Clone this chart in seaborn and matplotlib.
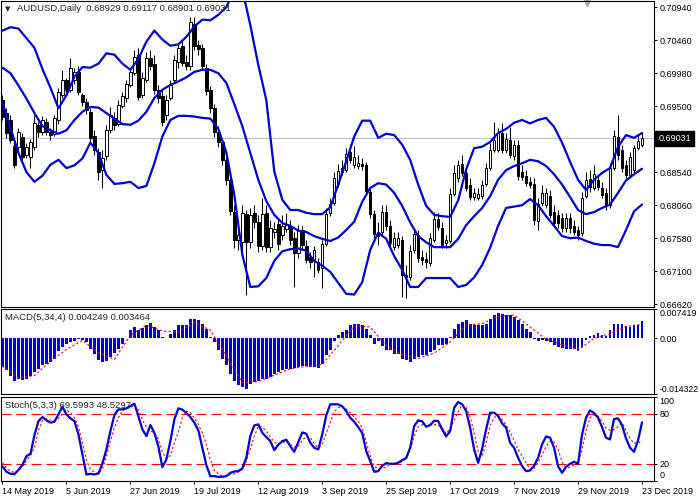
import numpy as np
import pandas as pd
import seaborn as sns
import matplotlib.pyplot as plt

sns.set_style('white')
plt.rcParams['font.family'] = ['Liberation Sans', 'DejaVu Sans']
plt.rcParams['font.size'] = 6.5

# ---- values (AUDUSD daily, 14 May - 23 Dec 2019) ----
tick_labels = ['14 May 2019', '5 Jun 2019', '27 Jun 2019', '19 Jul 2019', '12 Aug 2019', '3 Sep 2019',
               '25 Sep 2019', '17 Oct 2019', '7 Nov 2019', '29 Nov 2019', '23 Dec 2019']

open_ = [.6959, .6940, .6930, .6892, .6891, .6905, .6879, .6876, .6891, .6923,
         .6913, .6927, .6913, .6910, .6930, .6966, .6988, .6974, .6988, .7000,
         .6966, .6956, .6942, .6907, .6883, .6857, .6878, .6915, .6933, .6924,
         .6950, .6962, .6981, .6998, .7025, .6966, .6988, .7020, .7012, .6974,
         .6965, .6937, .6962, .6988, .7014, .7038, .7014, .7009, .7070, .7039,
         .7035, .7006, .6974, .6948, .6913, .6898, .6872, .6843, .6796, .6755,
         .6753, .6793, .6753, .6795, .6782, .6747, .6795, .6745, .6767, .6779,
         .6763, .6771, .6776, .6758, .6737, .6770, .6747, .6731, .6726, .6723,
         .6715, .6750, .6795, .6809, .6837, .6854, .6857, .6883, .6865, .6863,
         .6866, .6865, .6825, .6793, .6767, .6767, .6796, .6776, .6745, .6748,
         .6755, .6705, .6702, .6741, .6763, .6731, .6728, .6722, .6755, .6786,
         .6773, .6751, .6754, .6822, .6846, .6866, .6853, .6835, .6818, .6817,
         .6819, .6837, .6860, .6886, .6886, .6911, .6886, .6901, .6878, .6894,
         .6854, .6849, .6840, .6837, .6783, .6809, .6806, .6819, .6796, .6792,
         .6787, .6773, .6787, .6776, .6770, .6766, .6819, .6844, .6831, .6843,
         .6831, .6824, .6806, .6860, .6905, .6886, .6865, .6850, .6857, .6889,
         .68929]
high = [.6966, .6948, .6937, .6901, .6918, .6911, .6897, .6902, .6937, .6927,
        .6936, .6933, .6918, .6937, .6977, .7003, .6991, .7020, .7006, .7009,
        .6969, .6962, .6948, .6915, .6889, .6886, .6923, .6949, .6942, .6959,
        .6971, .6988, .7006, .7032, .7035, .7000, .7029, .7032, .7025, .6981,
        .6974, .6966, .6988, .7025, .7042, .7046, .7025, .7080, .7080, .7046,
        .7041, .7012, .6980, .6953, .6921, .6901, .6879, .6850, .6806, .6777,
        .6806, .6799, .6802, .6806, .6792, .6817, .6806, .6785, .6782, .6787,
        .6792, .6795, .6785, .6767, .6777, .6776, .6755, .6738, .6747, .6729,
        .6755, .6802, .6817, .6854, .6866, .6872, .6889, .6895, .6892, .6879,
        .6875, .6869, .6831, .6799, .6782, .6806, .6806, .6785, .6767, .6767,
        .6761, .6719, .6748, .6773, .6770, .6741, .6738, .6766, .6796, .6795,
        .6782, .6763, .6831, .6865, .6872, .6879, .6863, .6846, .6831, .6831,
        .6843, .6867, .6897, .6927, .6918, .6926, .6911, .6920, .6901, .6901,
        .6865, .6857, .6847, .6846, .6817, .6835, .6831, .6828, .6806, .6799,
        .6795, .6795, .6795, .6785, .6776, .6825, .6854, .6857, .6865, .6850,
        .6840, .6831, .6867, .6915, .6937, .6894, .6872, .6883, .6894, .6908,
        .69117]
low = [.6930, .6904, .6897, .6860, .6886, .6872, .6875, .6860, .6886, .6905,
       .6908, .6908, .6901, .6907, .6924, .6962, .6966, .6971, .6982, .6966,
       .6950, .6939, .6898, .6879, .6843, .6831, .6872, .6911, .6915, .6921,
       .6948, .6956, .6978, .6996, .6959, .6962, .6985, .7003, .6968, .6955,
       .6921, .6930, .6959, .6985, .7006, .7009, .7003, .7003, .7032, .7025,
       .7003, .6966, .6940, .6905, .6891, .6865, .6835, .6792, .6744, .6741,
       .6741, .6675, .6744, .6773, .6738, .6741, .6738, .6738, .6758, .6741,
       .6755, .6767, .6748, .6687, .6729, .6741, .6722, .6715, .6702, .6707,
       .6686, .6747, .6790, .6806, .6833, .6850, .6854, .6867, .6860, .6859,
       .6857, .6821, .6787, .6755, .6748, .6763, .6770, .6744, .6741, .6744,
       .6673, .6671, .6697, .6737, .6723, .6719, .6715, .6718, .6753, .6770,
       .6744, .6744, .6751, .6819, .6840, .6849, .6827, .6814, .6814, .6814,
       .6815, .6834, .6857, .6883, .6883, .6882, .6882, .6875, .6872, .6843,
       .6843, .6834, .6831, .6777, .6770, .6805, .6802, .6787, .6776, .6773,
       .6767, .6767, .6766, .6763, .6755, .6761, .6817, .6825, .6828, .6828,
       .6817, .6799, .6802, .6857, .6872, .6854, .6846, .6846, .6853, .6886,
       .68901]
close = [.6934, .6911, .6901, .6865, .6913, .6876, .6891, .6898, .6926, .6913,
         .6930, .6913, .6908, .6933, .6971, .6988, .6974, .7006, .7000, .6971,
         .6956, .6945, .6904, .6886, .6854, .6875, .6915, .6937, .6923, .6952,
         .6965, .6982, .7000, .7022, .6964, .6991, .7020, .7009, .6974, .6962,
         .6927, .6959, .6981, .7017, .7035, .7013, .7009, .7073, .7038, .7033,
         .7009, .6972, .6948, .6913, .6898, .6872, .6843, .6798, .6755, .6763,
         .6795, .6753, .6792, .6782, .6747, .6793, .6745, .6773, .6771, .6750,
         .6776, .6777, .6755, .6737, .6770, .6748, .6726, .6723, .6741, .6712,
         .6750, .6793, .6808, .6846, .6856, .6860, .6881, .6872, .6876, .6867,
         .6863, .6827, .6793, .6764, .6761, .6796, .6776, .6751, .6758, .6758,
         .6705, .6702, .6739, .6764, .6729, .6726, .6723, .6758, .6786, .6774,
         .6748, .6755, .6822, .6853, .6865, .6853, .6831, .6818, .6824, .6822,
         .6835, .6860, .6886, .6901, .6911, .6886, .6902, .6879, .6894, .6849,
         .6847, .6838, .6835, .6785, .6808, .6824, .6824, .6792, .6780, .6780,
         .6773, .6787, .6773, .6767, .6763, .6817, .6843, .6833, .6851, .6833,
         .6821, .6806, .6860, .6907, .6879, .6860, .6850, .6876, .6889, .6899,
         .69031]

# Bollinger bands (20, 2), read every 2nd bar
bb_upper = [.7060, .7065, .7063, .7049, .7035, .7004, .6977, .6947, .6966, .6993,
            .7007, .7006, .7012, .7027, .7025, .7012, .7003, .7019, .7044, .7060,
            .7047, .7038, .7040, .7051, .7066, .7076, .7075, .7083, .7094, .7120,
            .7120, .7068, .7010, .6959, .6855, .6814, .6799, .6799, .6795, .6793,
            .6793, .6803, .6836, .6870, .6906, .6929, .6929, .6904, .6910, .6908,
            .6894, .6872, .6836, .6805, .6792, .6790, .6789, .6813, .6858, .6889,
            .6891, .6898, .6911, .6917, .6926, .6930, .6925, .6930, .6933, .6920,
            .6897, .6869, .6843, .6828, .6843, .6853, .6860, .6891, .6908, .6904,
            .6911]
bb_middle = [.7006, .6998, .6980, .6961, .6940, .6921, .6915, .6910, .6915, .6930,
             .6942, .6949, .6948, .6940, .6932, .6924, .6923, .6929, .6942, .6962,
             .6974, .6981, .6986, .6992, .7000, .7003, .7003, .6998, .6984, .6953,
             .6921, .6882, .6843, .6812, .6792, .6780, .6776, .6769, .6767, .6761,
             .6757, .6754, .6759, .6770, .6782, .6811, .6831, .6838, .6836, .6824,
             .6805, .6781, .6761, .6752, .6745, .6745, .6745, .6757, .6777, .6790,
             .6802, .6819, .6843, .6857, .6863, .6867, .6872, .6870, .6863, .6851,
             .6836, .6818, .6799, .6793, .6796, .6802, .6807, .6824, .6842, .6851,
             .6859]
bb_lower = [.6955, .6918, .6882, .6854, .6840, .6849, .6865, .6872, .6860, .6864,
            .6874, .6897, .6882, .6850, .6837, .6838, .6840, .6831, .6834, .6867,
            .6906, .6930, .6936, .6936, .6935, .6933, .6932, .6917, .6883, .6821,
            .6734, .6687, .6688, .6700, .6725, .6739, .6742, .6743, .6740, .6725,
            .6718, .6709, .6693, .6677, .6676, .6694, .6741, .6766, .6757, .6732,
            .6712, .6687, .6687, .6700, .6700, .6700, .6700, .6687, .6690, .6701,
            .6719, .6744, .6776, .6802, .6804, .6806, .6815, .6806, .6790, .6776,
            .6761, .6758, .6759, .6754, .6750, .6748, .6748, .6745, .6770, .6797,
            .6807]

macd_hist = [-0.00746, -0.00831, -0.00960, -0.01088, -0.01046, -0.01063, -0.01046, -0.00977, -0.00874, -0.00788,
             -0.00703, -0.00660, -0.00617, -0.00531, -0.00343, -0.00231, -0.00146, -0.00103, -0.00077, -0.00034,
             -0.00060, -0.00103, -0.00274, -0.00403, -0.00574, -0.00617, -0.00600, -0.00488, -0.00377, -0.00274,
             -0.00146, 0.00010, 0.00197, 0.00283, 0.00197, 0.00257, 0.00343, 0.00394, 0.00283, 0.00197,
             0.00026, 0.00005, 0.00111, 0.00197, 0.00326, 0.00326, 0.00326, 0.00497, 0.00497, 0.00454,
             0.00369, 0.00240, 0.00026, -0.00103, -0.00317, -0.00531, -0.00703, -0.00917, -0.01088, -0.01200,
             -0.01260, -0.01303, -0.01174, -0.01131, -0.01088, -0.01046, -0.01046, -0.01003, -0.00917, -0.00874,
             -0.00831, -0.00788, -0.00788, -0.00771, -0.00746, -0.00720, -0.00720, -0.00746, -0.00746, -0.00771,
             -0.00660, -0.00446, -0.00317, -0.00086, 0.00069, 0.00154, 0.00197, 0.00326, 0.00369, 0.00369,
             0.00326, 0.00240, 0.00069, -0.00146, -0.00086, -0.00206, -0.00317, -0.00317, -0.00403, -0.00403,
             -0.00531, -0.00574, -0.00617, -0.00531, -0.00488, -0.00446, -0.00446, -0.00360, -0.00317, -0.00189,
             -0.00171, -0.00146, 0.00026, 0.00240, 0.00369, 0.00411, 0.00454, 0.00369, 0.00326, 0.00326,
             0.00326, 0.00369, 0.00497, 0.00583, 0.00651, 0.00626, 0.00583, 0.00583, 0.00540, 0.00454,
             0.00369, 0.00240, 0.00154, -0.00017, -0.00086, -0.00060, -0.00086, -0.00103, -0.00189, -0.00231,
             -0.00257, -0.00274, -0.00274, -0.00291, -0.00343, -0.00231, -0.00060, 0.00051, 0.00086, 0.00137,
             0.00086, 0.00051, 0.00197, 0.00369, 0.00369, 0.00369, 0.00309, 0.00283, 0.00326, 0.00343,
             0.004249]
# MACD signal, read every 4th bar
macd_signal = [-0.00720, -0.01028, -0.00960, -0.00600, -0.00291, -0.00060, -0.00377, -0.00548, 0.00069, 0.00326,
               0.00180, 0.00154, 0.00394, 0.00197, -0.00463, -0.01140, -0.01114, -0.00951, -0.00788, -0.00728,
               -0.00677, -0.00189, 0.00309, 0.00283, -0.00197, -0.00428, -0.00523, -0.00386, -0.00103, 0.00326,
               0.00369, 0.00548, 0.00591, 0.00283, -0.00034, -0.00171, -0.00309, -0.00009, 0.00111, 0.00300,
               0.003464]

stoch_main = [16.8, 10.4, 8.0, 7.6, 12.8, 18.8, 29.2, 32.0, 54.4, 71.2,
              76.0, 72.0, 69.2, 70.4, 79.2, 88.4, 79.2, 74.4, 71.2, 55.2,
              31.2, 7.2, 8.0, 7.2, 8.4, 20.4, 37.2, 59.2, 78.4, 85.2,
              85.2, 86.4, 89.2, 92.0, 77.2, 61.2, 53.2, 66.4, 57.2, 40.8,
              16.0, 25.2, 47.2, 73.2, 86.4, 84.8, 80.8, 76.0, 69.2, 60.0,
              39.2, 18.4, 5.2, 5.2, 4.4, 4.4, 5.2, 9.2, 10.8, 11.2,
              14.4, 27.2, 53.2, 66.0, 67.2, 57.2, 52.0, 47.2, 36.4, 42.8,
              47.2, 48.8, 41.2, 34.4, 46.0, 57.6, 56.0, 45.2, 39.2, 37.2,
              55.2, 78.0, 91.2, 91.2, 91.2, 88.8, 83.2, 75.2, 70.4, 64.0,
              56.8, 35.2, 23.2, 10.4, 11.2, 17.6, 20.8, 20.0, 20.0, 21.2,
              24.4, 26.8, 39.2, 65.2, 72.0, 70.8, 64.4, 66.4, 71.6, 71.2,
              61.2, 52.8, 59.2, 87.2, 94.0, 91.2, 83.2, 63.2, 37.2, 21.2,
              38.0, 61.2, 81.2, 81.2, 77.2, 68.4, 63.2, 45.2, 39.2, 27.2,
              17.2, 11.2, 12.0, 17.6, 27.2, 43.2, 52.8, 51.2, 39.2, 17.2,
              9.2, 16.4, 20.0, 22.4, 20.0, 55.2, 75.2, 84.0, 80.8, 75.2,
              64.0, 51.2, 49.2, 73.6, 74.4, 66.4, 50.4, 39.2, 34.4, 48.0,
              69.6]
stoch_signal = [21.6, 14.4, 11.2, 9.6, 12.0, 16.8, 24.0, 30.0, 39.2, 60.0,
                71.6, 74.0, 72.4, 72.0, 74.4, 79.6, 84.4, 81.2, 75.2, 64.4,
                45.2, 24.4, 13.2, 9.6, 8.4, 13.6, 28.8, 47.2, 63.6, 75.2,
                83.2, 86.4, 87.2, 90.4, 84.4, 73.2, 64.0, 59.2, 57.2, 50.0,
                34.4, 26.0, 30.0, 45.2, 58.0, 75.2, 83.2, 81.2, 74.8, 67.2,
                57.2, 43.2, 25.2, 12.0, 8.0, 5.2, 5.6, 7.2, 8.0, 10.4,
                13.2, 23.2, 37.2, 53.2, 64.8, 63.6, 59.2, 52.0, 46.0, 43.6,
                45.2, 47.2, 43.2, 40.0, 40.8, 48.0, 52.8, 51.6, 44.0, 39.2,
                43.2, 56.4, 69.2, 82.4, 87.2, 88.8, 85.6, 81.2, 75.6, 70.8,
                62.8, 46.0, 29.2, 16.4, 14.8, 14.4, 16.4, 19.2, 19.6, 20.8,
                22.4, 28.4, 36.4, 52.8, 64.4, 66.8, 65.6, 66.4, 67.2, 66.0,
                62.8, 56.4, 62.0, 72.0, 82.4, 90.8, 87.6, 76.4, 57.2, 35.2,
                28.8, 45.2, 65.2, 75.6, 77.6, 73.2, 66.4, 58.0, 48.0, 37.2,
                29.2, 21.2, 13.2, 14.4, 21.2, 31.2, 40.4, 47.2, 46.0, 37.2,
                22.0, 15.2, 16.0, 18.8, 20.8, 37.2, 59.2, 75.2, 78.4, 77.2,
                70.8, 62.8, 60.0, 61.2, 64.4, 68.8, 60.0, 50.4, 44.8, 44.4,
                48.5]

price_levels = [0.70940, 0.70460, 0.69980, 0.69500, 0.68540, 0.68060, 0.67580, 0.67100, 0.66620]
last_price = 0.69031
macd_levels = [0.007419, 0.0, -0.014322]
stoch_levels = [100, 80, 20, 0]

# ---- layout (MT4 style panes) ----
BLUE = '#0000CD'
bars = np.arange(len(close))
band_bars = bars[::2]
signal_bars = bars[::4]
tick_bars = bars[::16]

fig = plt.figure(figsize=(7, 5), dpi=100)


def pane(top, bottom):
    return fig.add_axes([0.5 / 700, 1 - bottom / 500, 653.5 / 700, (bottom - top) / 500])


ax = pane(1, 307)
ax_m = pane(309, 394)
ax_s = pane(397, 480.5)
for a in (ax, ax_m, ax_s):
    a.set_xlim(-0.5, 163)
    for s in a.spines.values():
        s.set_color('black')
        s.set_linewidth(0.8)
    a.yaxis.tick_right()
    a.tick_params(axis='y', length=2.2, width=0.7, pad=1.6, labelsize=6.5, colors='black')
    a.tick_params(axis='x', bottom=False, labelbottom=False)

# price pane
o, h, l, c = map(np.array, (open_, high, low, close))
up = c >= o
ax.axhline(last_price, color='#C0C0C0', lw=0.8, zorder=1)
ax.vlines(bars, l, h, color='black', lw=0.75, zorder=2)
ax.bar(bars, np.maximum(np.abs(c - o), 0.00003), bottom=np.minimum(o, c), width=0.62,
       color=np.where(up, 'white', 'black'), edgecolor='black', linewidth=0.7, zorder=3)
bands = pd.DataFrame({'bar': band_bars, 'upper': bb_upper, 'middle': bb_middle, 'lower': bb_lower})
for col in ['upper', 'middle', 'lower']:
    sns.lineplot(data=bands, x='bar', y=col, ax=ax, color=BLUE, linewidth=1.6, zorder=4)
ax.set_ylim(0.66579, 0.71031)
ax.set_yticks(price_levels)
ax.set_yticklabels([f'{v:.5f}' for v in price_levels])
ax.set_xlabel('')
ax.set_ylabel('')
ax.annotate(f'{last_price:.5f}', xy=(1, last_price), xycoords=('axes fraction', 'data'),
            xytext=(3.0, 0), textcoords='offset points', va='center', ha='left', color='white',
            fontsize=6.5, bbox=dict(boxstyle='square,pad=0.3', fc='black', ec='black'))
ax.plot([587 / 654], [0.994], marker='v', ms=5, color='#A8A8A8', transform=ax.transAxes, clip_on=False)

# MACD pane
ax_m.bar(bars, macd_hist, width=0.72, color=BLUE, linewidth=0)
sig = pd.DataFrame({'bar': signal_bars, 'signal': macd_signal})
sns.lineplot(data=sig, x='bar', y='signal', ax=ax_m, color='red', linewidth=0.8, linestyle=(0, (2, 2)))
ax_m.set_ylim(-0.014322, 0.007419)
ax_m.set_yticks(macd_levels)
ax_m.set_yticklabels(['0.007419', '0.00', '-0.014322'])
ml = ax_m.get_yticklabels()
ml[0].set_va('top')
ml[2].set_va('bottom')
ml[2].set_fontsize(6.2)
ax_m.set_xlabel('')
ax_m.set_ylabel('')

# Stochastic pane
st = pd.DataFrame({'bar': bars, 'main': stoch_main, 'signal': stoch_signal})
for lev in (80, 20):
    ax_s.axhline(lev, color='red', lw=0.8, ls=(0, (9, 4.5)))
sns.lineplot(data=st, x='bar', y='signal', ax=ax_s, color='red', linewidth=0.8, linestyle=(0, (2, 2)))
sns.lineplot(data=st, x='bar', y='main', ax=ax_s, color=BLUE, linewidth=1.6)
ax_s.set_ylim(0, 100)
ax_s.set_yticks(stoch_levels)
ax_s.set_yticklabels([str(v) for v in stoch_levels])
sl = ax_s.get_yticklabels()
sl[0].set_va('top')
sl[3].set_va('bottom')
ax_s.set_xticks(tick_bars)
ax_s.set_xticklabels(tick_labels, ha='left')
ax_s.tick_params(axis='x', bottom=True, labelbottom=True, length=2.5, width=0.7, pad=2.5,
                 labelsize=6.5, colors='black')
ax_s.set_xlabel('')
ax_s.set_ylabel('')

# headers
fig.text(5 / 700, 1 - 9 / 500, '\u25bc', fontsize=5, va='center', family=['DejaVu Sans'])
fig.text(17 / 700, 1 - 8.5 / 500, 'AUDUSD,Daily  0.68929 0.69117 0.68901 0.69031', va='center', fontsize=6.8)
fig.text(5 / 700, 1 - 317 / 500, 'MACD(5,34,4) 0.004249 0.003464', va='center', fontsize=6.8)
fig.text(5 / 700, 1 - 406 / 500, 'Stoch(5,3,3) 69.5993 48.5297', va='center', fontsize=6.8)

fig.savefig('out.png', dpi=100, facecolor='white')
